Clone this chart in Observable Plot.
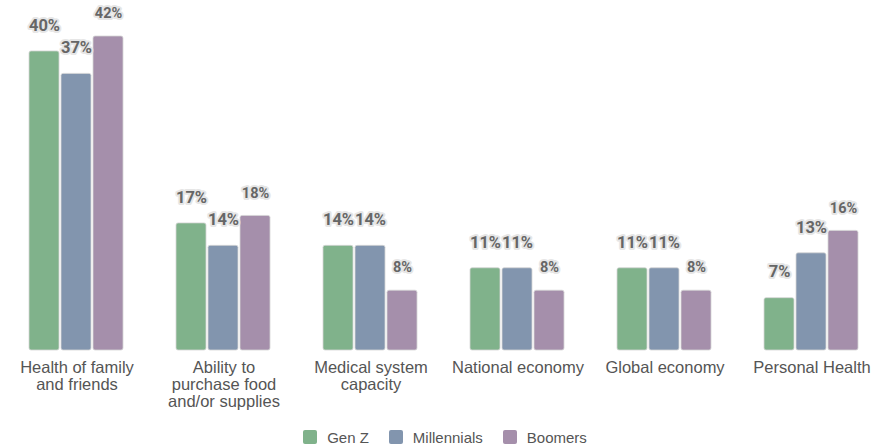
<!DOCTYPE html>
<html>
<head>
<meta charset="utf-8">
<script src="https://cdn.jsdelivr.net/npm/d3@7"></script>
<script src="https://cdn.jsdelivr.net/npm/@observablehq/plot@0.6"></script>
<style>
  html, body { margin: 0; padding: 0; background: #fff; }
  #chart svg { display: block; }
  .legend { display: flex; justify-content: center; align-items: center; height: 18px; font-family: "Liberation Sans", Arial, sans-serif; font-size: 15px; color: #555; padding-left: 2px; }
  .legend .item { display: flex; align-items: center; margin: 0 10px; }
  .legend .sw { width: 14px; height: 14px; border-radius: 2px; margin-right: 10px; }
</style>
</head>
<body>
<div id="chart"></div>
<div class="legend" id="legend"></div>
<script>
const categories = ["Health of family and friends", "Ability to purchase food and/or supplies", "Medical system capacity", "National economy", "Global economy", "Personal Health"];
const tickLabels = ["Health of family\nand friends", "Ability to\npurchase food\nand/or supplies", "Medical system\ncapacity", "National economy", "Global economy", "Personal Health"];
const generations = ["Gen Z", "Millennials", "Boomers"];
const genZ = [40, 17, 14, 11, 11, 7];
const millennials = [37, 14, 14, 11, 11, 13];
const boomers = [42, 18, 8, 8, 8, 16];
const colors = ["#80b28b", "#8295ae", "#a58fab"];

const series = [genZ, millennials, boomers];
const data = categories.flatMap((c, i) => generations.map((g, j) => ({category: c, gen: g, value: series[j][i]})));
const labelsFont = "Roboto, 'Noto Sans', sans-serif";

const chart = Plot.plot({
  width: 888,
  height: 428,
  marginLeft: 1,
  marginRight: 2,
  marginTop: 36,
  marginBottom: 78,
  fx: {domain: categories, padding: 0, axis: null},
  x: {domain: generations, paddingInner: 0.05, paddingOuter: 0.8, axis: null},
  y: {domain: [0, 42], axis: null},
  color: {domain: generations, range: colors},
  marks: [
    Plot.barY(data, {fx: "category", x: "gen", y: "value", fill: "gen", rx: 2, stroke: "#d6d6d6", strokeWidth: 0.8}),
    Plot.text(data.filter(d => d.gen !== "Boomers"), {
      fx: "category", x: "gen", y: "value", text: d => d.value + "%",
      dy: -26, fontSize: 16.5, fontWeight: 700, fill: "#666", stroke: "#e6e6e6", strokeWidth: 4, fontFamily: labelsFont
    }),
    Plot.text(data.filter(d => d.gen === "Boomers"), {
      fx: "category", x: "gen", y: "value", text: d => d.value + "%",
      dy: -23, fontSize: 14.5, fontWeight: 700, fill: "#666", stroke: "#e6e6e6", strokeWidth: 4, fontFamily: labelsFont
    }),
    Plot.text(categories, {
      fx: d => d, text: (d, i) => tickLabels[i], frameAnchor: "bottom", lineAnchor: "top",
      dy: 10, fontSize: 16.5, lineHeight: 1.04, fill: "#555", fontFamily: "'Liberation Sans', Arial, sans-serif"
    })
  ]
});
document.getElementById("chart").appendChild(chart);

const legend = document.getElementById("legend");
generations.forEach((g, i) => {
  const item = document.createElement("div");
  item.className = "item";
  const sw = document.createElement("span");
  sw.className = "sw";
  sw.style.background = colors[i];
  const t = document.createElement("span");
  t.textContent = g;
  item.appendChild(sw);
  item.appendChild(t);
  legend.appendChild(item);
});
</script>
</body>
</html>
